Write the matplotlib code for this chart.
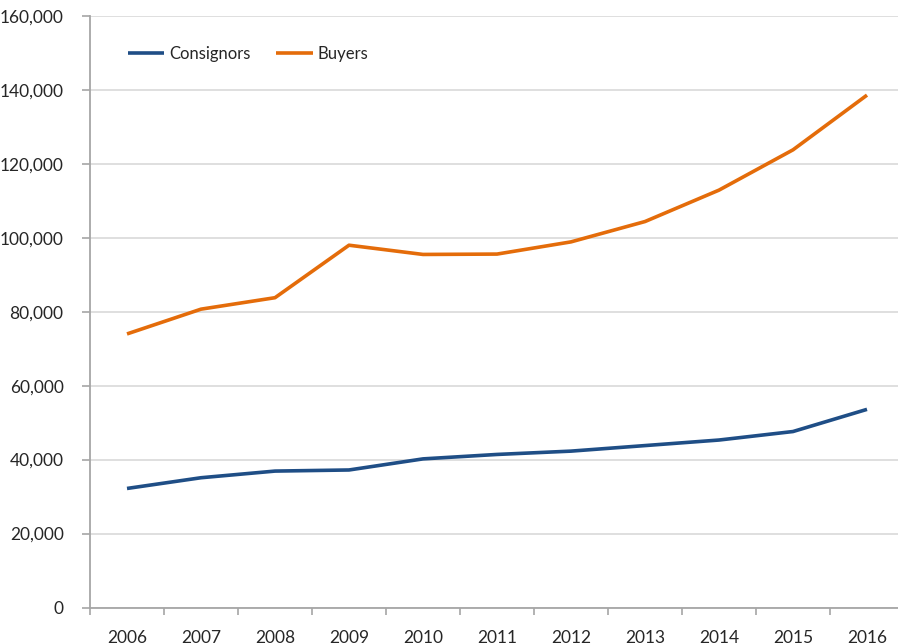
import matplotlib
matplotlib.use("Agg")
import matplotlib.pyplot as plt
from matplotlib.ticker import FuncFormatter, FixedLocator
import numpy as np

years = ["2006", "2007", "2008", "2009", "2010", "2011", "2012", "2013", "2014", "2015", "2016"]
consignors = [32200, 35100, 36900, 37200, 40200, 41400, 42300, 43800, 45300, 47600, 53600]
buyers = [74000, 80700, 83800, 98000, 95500, 95600, 98900, 104400, 112900, 123800, 138600]

plt.rcParams['font.family'] = ['Lato', 'DejaVu Sans']

W, H = 898, 644
fig = plt.figure(figsize=(W / 100, H / 100), dpi=100)
left_px, right_px = 90, 904
bot_px, top_px = 607.5, 16
ax = fig.add_axes([left_px / W, 1 - bot_px / H, (right_px - left_px) / W, (bot_px - top_px) / H])

x = np.arange(len(years))
ax.plot(x, consignors, color='#1F4E86', lw=2.6, label='Consignors', solid_capstyle='butt')
ax.plot(x, buyers, color='#E46C0A', lw=2.6, label='Buyers', solid_capstyle='butt')

ax.set_xlim(-0.5, len(years) - 0.5)
ax.set_ylim(0, 160000)
ax.set_yticks(np.arange(0, 160001, 20000))
ax.yaxis.set_major_formatter(FuncFormatter(lambda v, p: f"{int(v):,}"))
ax.yaxis.grid(True, color='#D9D9D9', lw=1.2)
ax.set_axisbelow(True)

ax.set_xticks(x)
ax.set_xticklabels(years)
ax.xaxis.set_minor_locator(FixedLocator(np.arange(-0.5, len(years), 1.0)))
ax.tick_params(axis='x', which='major', length=0, pad=16, labelsize=12.5, labelcolor='#262626')
ax.tick_params(axis='x', which='minor', length=5, width=1.2, color='#A6A6A6', direction='out')
ax.tick_params(axis='y', length=6, width=1.2, color='#A6A6A6', pad=13, labelsize=12.5, labelcolor='#262626')

for s in ['top', 'right']:
    ax.spines[s].set_visible(False)
for s in ['left', 'bottom']:
    ax.spines[s].set_color('#A6A6A6')
    ax.spines[s].set_linewidth(1.3)

leg = ax.legend(loc='upper left', bbox_to_anchor=(0.028, 0.975), ncol=2, frameon=False,
                fontsize=12, handlelength=2.2, handletextpad=0.3, columnspacing=1.5,
                labelcolor='#262626')

fig.savefig('out.png', dpi=100)
